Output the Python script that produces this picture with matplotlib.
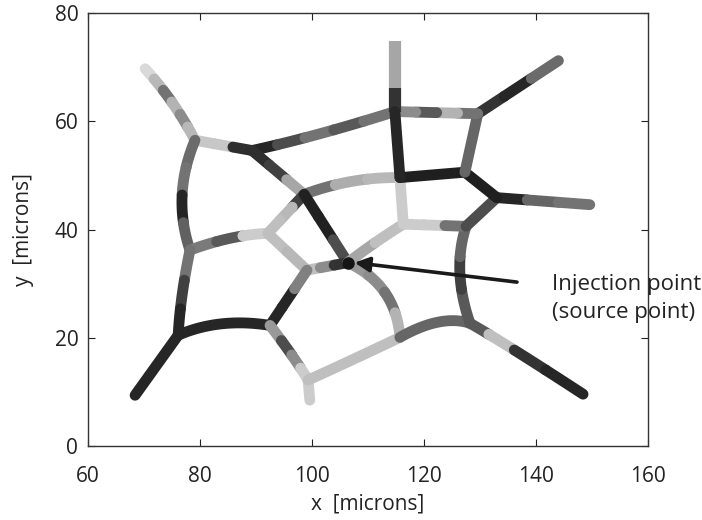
import numpy as np
import matplotlib
matplotlib.use("Agg")
import matplotlib.pyplot as plt
from matplotlib.collections import LineCollection

# Node positions of the network [microns]
node_names = ["end1", "A", "B", "C", "Ctop", "T", "endT", "R", "S", "Q", "endQ",
              "O", "P", "D", "E", "F", "G", "H", "J", "endJ", "K", "L", "endL",
              "M", "N", "endN"]
node_x = [70.2, 79.1, 89.3, 114.8, 114.8, 129.6, 144.0, 127.3, 115.7, 133.0, 149.6,
          127.5, 116.3, 98.6, 78.2, 92.1, 99.1, 106.4, 76.1, 68.4, 92.5, 99.3, 99.6,
          115.7, 128.2, 148.4]
node_y = [69.7, 56.5, 54.6, 61.8, 74.9, 61.4, 71.2, 50.6, 49.6, 45.9, 44.6,
          40.6, 41.0, 46.5, 36.2, 39.3, 32.5, 33.9, 20.5, 9.4, 22.3, 12.2, 8.5,
          20.1, 22.7, 9.6]

# Branch segments (start node, end node)
edges = [("end1", "A"), ("A", "B"), ("B", "C"), ("A", "E"), ("B", "D"), ("D", "S"),
         ("D", "F"), ("D", "H"), ("E", "F"), ("F", "G"), ("G", "H"), ("E", "J"),
         ("J", "endJ"), ("J", "K"), ("K", "G"), ("K", "L"), ("L", "endL"), ("L", "M"),
         ("H", "M"), ("H", "P"), ("M", "N"), ("N", "endN"), ("N", "O"), ("P", "O"),
         ("P", "S"), ("O", "Q"), ("Q", "endQ"), ("Q", "R"), ("R", "S"), ("R", "T"),
         ("T", "endT"), ("T", "C"), ("C", "Ctop"), ("C", "S")]

# Points that curved branches pass through at their middle
bend_points = {("end1", "A"): (75.0, 63.5), ("B", "C"): (101.4, 57.7),
               ("A", "E"): (76.8, 46.3), ("D", "S"): (107.1, 48.9),
               ("E", "F"): (85.4, 38.4), ("E", "J"): (76.8, 27.9),
               ("J", "K"): (83.9, 22.6), ("K", "L"): (96.4, 16.8),
               ("L", "M"): (107.7, 16.2), ("H", "M"): (113.0, 28.4),
               ("H", "P"): (111.3, 37.6), ("M", "N"): (122.5, 22.9),
               ("N", "endN"): (136.2, 17.7), ("N", "O"): (126.4, 32.1)}

# Gray level along each branch (0 = black, 1 = white), from start to end node
edge_gray = [[0.85, 0.72, 0.45, 0.7, 0.55, 0.72], [0.78, 0.78, 0.18],
             [0.15, 0.3, 0.45, 0.35, 0.45], [0.42, 0.45, 0.15, 0.38],
             [0.18, 0.25, 0.65], [0.45, 0.68, 0.72], [0.25, 0.72, 0.75],
             [0.13, 0.13, 0.3], [0.48, 0.35, 0.8], [0.75, 0.72], [0.75, 0.55, 0.2],
             [0.45, 0.25, 0.15], [0.15], [0.15], [0.15, 0.15, 0.5],
             [0.6, 0.3, 0.55, 0.8], [0.8], [0.75], [0.6, 0.55, 0.45, 0.7],
             [0.65, 0.75], [0.4], [0.35, 0.75, 0.2, 0.15], [0.35, 0.25, 0.4],
             [0.8, 0.8, 0.45], [0.8], [0.3], [0.15, 0.4, 0.45], [0.12], [0.12],
             [0.4], [0.2, 0.15, 0.42], [0.45, 0.7, 0.35, 0.55], [0.2, 0.65, 0.65],
             [0.15]]

injection = "H"
x_ticks = [60, 80, 100, 120, 140, 160]
y_ticks = [0, 20, 40, 60, 80]

plt.rcParams["font.family"] = ["Open Sans", "DejaVu Sans"]

fig = plt.figure(figsize=(7.02, 5.2), dpi=100)
ax = fig.add_axes([0.1254, 0.142, 0.7977, 0.833])

pos = {n: (x, y) for n, x, y in zip(node_names, node_x, node_y)}


def branch_curve(a, b, n=120):
    p0 = np.array(pos[a])
    p2 = np.array(pos[b])
    if (a, b) in bend_points:
        mid = np.array(bend_points[(a, b)])
        p1 = 2 * mid - 0.5 * (p0 + p2)
    else:
        p1 = 0.5 * (p0 + p2)
    t = np.linspace(0, 1, n)[:, None]
    return (1 - t) ** 2 * p0 + 2 * (1 - t) * t * p1 + t ** 2 * p2


for (a, b), grays in zip(edges, edge_gray):
    pts = branch_curve(a, b)
    k = len(grays)
    idx = np.linspace(0, len(pts) - 1, k + 1).astype(int)
    segs, cols = [], []
    for i, g in enumerate(grays):
        segs.append(pts[idx[i]:idx[i + 1] + 1])
        cols.append((g, g, g))
    width = 8.8 if b == "Ctop" else 7.8
    cap = "butt" if b == "Ctop" else "round"
    lc = LineCollection(segs, colors=cols, linewidths=width, capstyle=cap,
                        joinstyle="round")
    ax.add_collection(lc)

hx, hy = pos[injection]
ax.plot([hx], [hy], "o", color="#151515", markersize=8, zorder=5)

ax.annotate("", xy=(hx + 1.2, hy), xytext=(136.6, 30.3),
            arrowprops=dict(arrowstyle="-|>", color="#1a1a1a", lw=2.6,
                            mutation_scale=22, shrinkA=0, shrinkB=0), zorder=6)
ax.text(142.8, 27.3, "Injection point\n(source point)", fontsize=16,
        color="#222222", ha="left", va="center", linespacing=1.4,
        clip_on=False)

ax.set_xlim(60, 160)
ax.set_ylim(0, 80)
ax.set_xticks(x_ticks)
ax.set_yticks(y_ticks)
ax.tick_params(direction="in", top=True, right=True, labelsize=15,
               length=5, width=0.8, colors="#222222")
ax.tick_params(axis="x", pad=14)
ax.tick_params(axis="y", pad=7)
for s in ax.spines.values():
    s.set_linewidth(1.0)
    s.set_color("#333333")
ax.set_xlabel("x  [microns]", fontsize=15, color="#222222", labelpad=5)
ax.set_ylabel("y  [microns]", fontsize=15, color="#222222", labelpad=15)

fig.savefig("out.png", dpi=100)
